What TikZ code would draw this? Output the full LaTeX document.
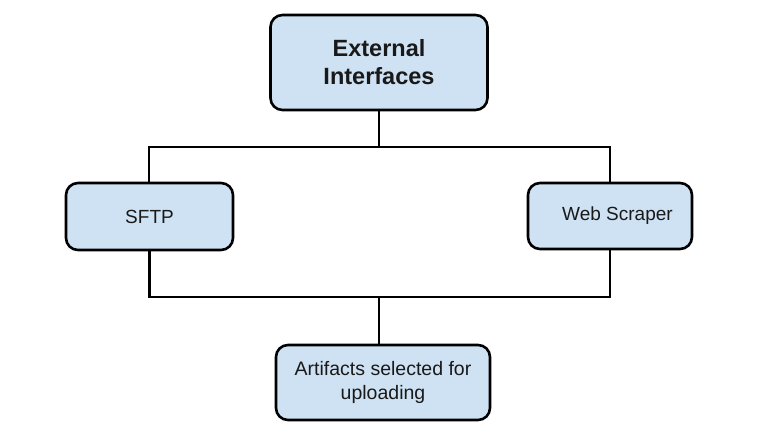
\documentclass[tikz,border=0pt]{standalone}
\usepackage{fontspec}
\setmainfont{Liberation Sans}
\definecolor{boxfill}{HTML}{CFE2F3}
\begin{document}
\begin{tikzpicture}[x=1pt,y=-1pt,
  box/.style={draw=black,fill=boxfill,line width=2.6pt,rounded corners=12pt,
    rectangle,inner sep=0pt,align=center,text=black!90},
  conn/.style={draw=black,line width=2.6pt}]
\useasboundingbox (0,0) rectangle (772,444);
\node[box,minimum width=217pt,minimum height=95pt,font=\bfseries\fontsize{23.5}{28}\selectfont] (top) at (379,62.5) {External\\Interfaces};
\node[box,minimum width=167pt,minimum height=67pt,font=\fontsize{19}{22}\selectfont] (sftp) at (149.5,216.5) {SFTP};
\node[box,minimum width=164pt,minimum height=66pt,font=\fontsize{19}{22}\selectfont] (web) at (610,216) {\hspace*{15pt}Web Scraper};
\node[box,minimum width=214pt,minimum height=75pt,font=\fontsize{19.5}{24}\selectfont] (art) at (383,382.5) {Artifacts selected for\\uploading};
\coordinate (j1) at (379,147);
\coordinate (j2) at (379,297);
\draw[conn] (top.south) -- (j1);
\draw[conn] (sftp.north -| 149,0) |- (j1) -| (web.north);
\draw[conn] (sftp.south) |- (j2) -| (web.south);
\draw[conn] (j2) -- (art.north -| j2);
\end{tikzpicture}
\end{document}
